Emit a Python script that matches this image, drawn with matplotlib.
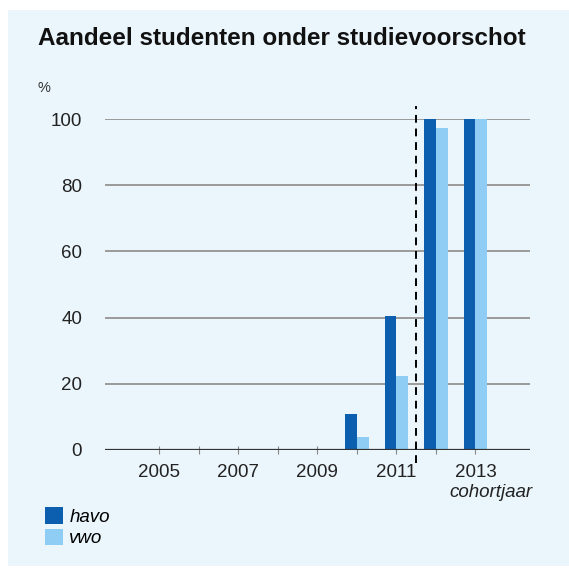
import matplotlib
matplotlib.use("Agg")
import matplotlib.pyplot as plt
from matplotlib.patches import Rectangle
import numpy as np

# data
years = [2005, 2006, 2007, 2008, 2009, 2010, 2011, 2012, 2013]
havo = [0, 0, 0, 0, 0, 11.0, 40.5, 100, 100]
vwo = [0, 0, 0, 0, 0, 3.8, 22.5, 97.3, 100]
label_years = [2005, 2007, 2009, 2011, 2013]
yticks = [0, 20, 40, 60, 80, 100]
cut_year = 2011.5

plt.rcParams['font.family'] = ['Liberation Sans', 'DejaVu Sans']

bg = '#eaf5fc'
c_havo = '#0b5fae'
c_vwo = '#8fcdf4'

W, H = 569, 570
fig = plt.figure(figsize=(W / 100, H / 100), dpi=100, facecolor='white')
fig.patches.append(Rectangle((8 / W, 4 / H), 1, 556 / H, transform=fig.transFigure,
                             facecolor=bg, edgecolor='none', zorder=-10))

ax = fig.add_axes([105 / W, 1 - 450 / H, 425 / W, 331 / H])
ax.set_facecolor('none')

x = np.array(years, dtype=float)
bw = 0.3
ax.bar(x - bw, havo, width=bw, align='edge', color=c_havo, label='havo', zorder=3)
ax.bar(x, vwo, width=bw, align='edge', color=c_vwo, label='vwo', zorder=3)

ax.set_xlim(2003.63, 2014.38)
ax.set_ylim(0, 100)

for v in yticks[1:]:
    ax.axhline(v, color='#9a9a9a', lw=1.4, zorder=1)
ax.axhline(0, color='#333333', lw=1.6, zorder=4)

ax.plot([cut_year, cut_year], [-4, 104], color='black', lw=1.4,
        linestyle=(0, (4, 3)), clip_on=False, zorder=5)

for s in ax.spines.values():
    s.set_visible(False)

ax.set_yticks(yticks)
ax.set_yticklabels([str(v) for v in yticks])
ax.tick_params(axis='y', length=0, pad=16.5, labelsize=13.5, labelcolor='#222222')

ax.set_xticks(years, minor=True)
ax.set_xticks(label_years)
ax.set_xticklabels([str(v) for v in label_years])
ax.tick_params(axis='x', which='both', direction='inout', length=6, width=0.8,
               color='#888888', labelsize=13.5, labelcolor='#222222', pad=7)

fig.text(38 / W, 1 - 45 / H, 'Aandeel studenten onder studievoorschot',
         fontsize=17.5, fontweight='bold', color='#111111', va='baseline', ha='left')
fig.text(37 / W, 1 - 92 / H, '%', fontsize=10.5, color='#333333', va='baseline', ha='left')
fig.text(533 / W, 1 - 497 / H, 'cohortjaar', fontsize=13.5, style='italic',
         color='#222222', va='baseline', ha='right')

h, l = ax.get_legend_handles_labels()
fig.legend(h, l, loc='upper left', bbox_to_anchor=(45 / W, 1 - 507 / H),
           frameon=False, prop={'size': 13.5, 'style': 'italic'},
           handlelength=0.95, handleheight=1.0, handletextpad=0.35,
           labelspacing=0.15, borderpad=0, borderaxespad=0)

fig.savefig('out.png', dpi=100, facecolor='white')
